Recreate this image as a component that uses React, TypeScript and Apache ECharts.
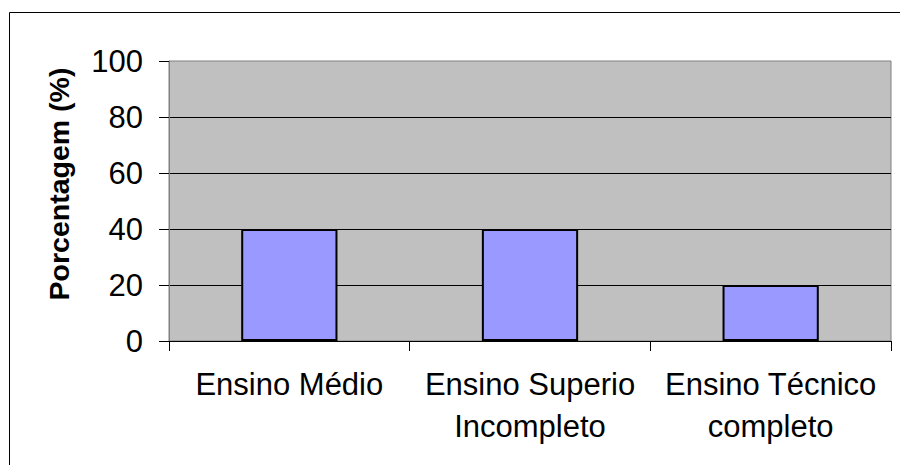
import React, { useEffect, useRef } from "react";
import * as echarts from "echarts";

const categories = ["Ensino Médio", "Ensino Superio\nIncompleto", "Ensino Técnico\ncompleto"];
const values = [40, 40, 20];
const yTicks = [0, 20, 40, 60, 80, 100];
const yAxisTitle = "Porcentagem (%)";

export default function App() {
  const ref = useRef<HTMLDivElement>(null);
  useEffect(() => {
    if (!ref.current) return;
    const chart = echarts.init(ref.current, undefined, { renderer: "svg" });
    chart.setOption({
      animation: false,
      backgroundColor: "#ffffff",
      textStyle: { fontFamily: "'Liberation Sans', Arial, sans-serif" },
      grid: {
        left: 169,
        right: 9,
        top: 61,
        bottom: 124,
        show: true,
        backgroundColor: "#C0C0C0",
        borderColor: "#808080",
        borderWidth: 1,
      },
      graphic: [
        {
          type: "rect",
          shape: { x: 9.5, y: 12.5, width: 900, height: 470 },
          style: { fill: "none", stroke: "#000", lineWidth: 1 },
          silent: true,
          z: -1,
        },
        {
          type: "text",
          x: 59,
          y: 184,
          rotation: Math.PI / 2,
          style: {
            text: yAxisTitle,
            fontSize: 28.5,
            fontWeight: "bold",
            fontFamily: "'Liberation Sans', Arial, sans-serif",
            fill: "#000",
            align: "center",
            verticalAlign: "middle",
          },
        },
      ],
      xAxis: {
        type: "category",
        data: categories,
        axisLine: { show: true, lineStyle: { color: "#000", width: 1 } },
        axisTick: { show: true, length: 10, lineStyle: { color: "#000" } },
        axisLabel: {
          fontSize: 31,
          color: "#000",
          lineHeight: 42,
          margin: 22,
          interval: 0,
        },
        splitLine: { show: false },
      },
      yAxis: {
        type: "value",
        min: yTicks[0],
        max: yTicks[yTicks.length - 1],
        interval: 20,
        axisLine: { show: true, lineStyle: { color: "#808080", width: 1 } },
        axisTick: { show: true, length: 10, lineStyle: { color: "#000" } },
        axisLabel: { fontSize: 31, color: "#000", margin: 26 },
        splitLine: {
          show: true,
          showMinLine: false,
          showMaxLine: false,
          lineStyle: { color: "#000", width: 1 },
        },
      },
      series: [
        {
          type: "bar",
          data: values,
          barCategoryGap: "60%",
          itemStyle: { color: "#9999FF", borderColor: "#000", borderWidth: 2 },
        },
      ],
    });
    return () => chart.dispose();
  }, []);
  return (
    <div
      ref={ref}
      style={{ position: "absolute", left: 0, top: 0, width: 900, height: 465 }}
    />
  );
}
